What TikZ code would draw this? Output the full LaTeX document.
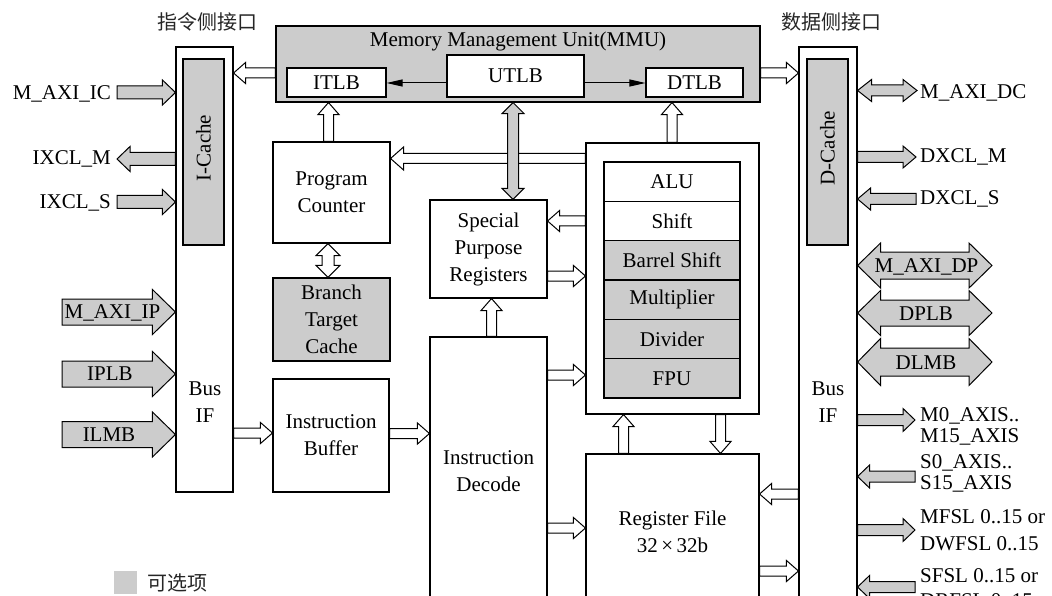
\documentclass[tikz,border=0pt]{standalone}
\usepackage{fontspec}
\setmainfont{Liberation Serif}
\newfontfamily\cjk{Noto Sans CJK SC}
\usetikzlibrary{calc,arrows.meta}
\definecolor{optgray}{RGB}{204,204,204}
\newcommand\txt{\fontsize{21}{27}\selectfont}

% single-headed block arrow: [style]{shaft half width}{head half width}{head length}{from}{to}
\newcommand\blk[6][]{%
  \path[#1] let \p1=(#5), \p2=(#6),
     \n1={atan2(\y2-\y1,\x2-\x1)}, \n2={veclen(\x2-\x1,\y2-\y1)} in
    ($(\p1)+(\n1+90:#2pt)$)
    -- ($(\p1)+(\n1:\n2-#4pt)+(\n1+90:#2pt)$)
    -- ($(\p1)+(\n1:\n2-#4pt)+(\n1+90:#3pt)$)
    -- (\p2)
    -- ($(\p1)+(\n1:\n2-#4pt)+(\n1-90:#3pt)$)
    -- ($(\p1)+(\n1:\n2-#4pt)+(\n1-90:#2pt)$)
    -- ($(\p1)+(\n1-90:#2pt)$) -- cycle;}
% double-headed block arrow, same arguments
\newcommand\dblk[6][]{%
  \path[#1] let \p1=(#5), \p2=(#6),
     \n1={atan2(\y2-\y1,\x2-\x1)}, \n2={veclen(\x2-\x1,\y2-\y1)} in
    (\p1)
    -- ($(\p1)+(\n1:#4pt)+(\n1+90:#3pt)$)
    -- ($(\p1)+(\n1:#4pt)+(\n1+90:#2pt)$)
    -- ($(\p1)+(\n1:\n2-#4pt)+(\n1+90:#2pt)$)
    -- ($(\p1)+(\n1:\n2-#4pt)+(\n1+90:#3pt)$)
    -- (\p2)
    -- ($(\p1)+(\n1:\n2-#4pt)+(\n1-90:#3pt)$)
    -- ($(\p1)+(\n1:\n2-#4pt)+(\n1-90:#2pt)$)
    -- ($(\p1)+(\n1:#4pt)+(\n1-90:#2pt)$)
    -- ($(\p1)+(\n1:#4pt)+(\n1-90:#3pt)$)
    -- cycle;}

\tikzset{
  box/.style={draw, line width=1.1pt, fill=white, inner sep=0pt, align=center, font=\txt},
  gbox/.style={box, fill=optgray},
  tnode/.style={inner sep=0pt, align=center, font=\txt},
  warr/.style={draw, line width=1pt, fill=white},
  garr/.style={draw, line width=1pt, fill=optgray},
  thinarr/.style={draw, line width=1pt, -{Triangle[length=16pt,width=7pt]}},
  cjktext/.style={inner sep=0pt, font=\cjk\fontsize{20}{24}\selectfont, text=black!85},
}
% white and grey connector shorthands
\newcommand\wa[2]{\blk[warr]{5}{10.5}{12}{#1}{#2}}
\newcommand\wda[2]{\dblk[warr]{6}{12}{12}{#1}{#2}}

\begin{document}
\begin{tikzpicture}[x=1pt,y=-1pt]
\useasboundingbox (0,0) rectangle (1052,596);
\clip (0,0) rectangle (1052,596);

% headings
\node[cjktext] (hi) at (207.5,22) {指令侧接口};
\node[cjktext] (hd) at (831,22) {数据侧接口};

% instruction-side bus interface
\node[box, minimum width=57pt, minimum height=445pt] (ibus) at (204.5,269.5) {};
\node[gbox, minimum width=41pt, minimum height=186pt] (icache) at (203.5,152) {};
\node[tnode, rotate=90] (icachet) at (203.5,148) {I-Cache};
\node[tnode] (ibust) at (205,402) {Bus\\IF};

% data-side bus interface
\node[box, minimum width=58pt, minimum height=593pt] (dbus) at (828,343.5) {};
\node[gbox, minimum width=41pt, minimum height=186pt] (dcache) at (827.5,152) {};
\node[tnode, rotate=90] (dcachet) at (827.5,148) {D-Cache};
\node[tnode] (dbust) at (828,402) {Bus\\IF};

% memory management unit
\node[gbox, minimum width=484pt, minimum height=76pt] (mmu) at (518,64) {};
\node[tnode, anchor=base] (mmut) at (518,47) {Memory Management Unit(MMU)};
\node[box, minimum width=99pt, minimum height=29pt] (itlb) at (336.5,82.5) {ITLB};
\node[box, minimum width=137pt, minimum height=42pt] (utlb) at (515.5,76) {UTLB};
\node[box, minimum width=97pt, minimum height=29pt] (dtlb) at (694.5,82.5) {DTLB};
\draw[thinarr] (utlb.west |- 0,83) -- (itlb.east |- 0,83);
\draw[thinarr] (utlb.east |- 0,83) -- (dtlb.west |- 0,83);

% fetch side
\node[box, minimum width=117pt, minimum height=101pt] (pc) at (331.5,192.5) {Program\\Counter};
\node[gbox, minimum width=117pt, minimum height=83pt] (btc) at (331.5,319.5) {Branch\\Target\\Cache};
\node[box, minimum width=116pt, minimum height=113pt] (ib) at (331,435.5) {Instruction\\Buffer};

% decode and special registers
\node[box, minimum width=117pt, minimum height=98pt] (spr) at (488.5,249) {Special\\Purpose\\Registers};
\node[box, minimum width=117pt, minimum height=303pt] (id) at (488.5,488.5) {};
\node[tnode] (idt) at (488.5,471) {Instruction\\Decode};

% execution units
\node[box, minimum width=173pt, minimum height=271pt] (exe) at (672.5,278.5) {};
\node[box, minimum width=136pt, minimum height=39.33pt] (alu) at (672,181.67) {ALU};
\node[box, minimum width=136pt, minimum height=39.33pt] (shift) at (672,221) {Shift};
\node[gbox, minimum width=136pt, minimum height=39.33pt] (bshift) at (672,260.33) {Barrel Shift};
\node[gbox, minimum width=136pt, minimum height=39.33pt] (mul) at (672,299.67) {Multiplier};
\node[gbox, minimum width=136pt, minimum height=39.33pt] (div) at (672,339) {Divider};
\node[gbox, minimum width=136pt, minimum height=39.33pt] (fpu) at (672,378.33) {FPU};

% register file
\node[box, minimum width=173pt, minimum height=186pt] (rf) at (672.5,547) {};
\node[tnode] (rft) at (672.5,532) {Register File\\32\,×\,32b};

% internal data paths
\wa{mmu.west |- 0,73}{ibus.east |- 0,73}
\wa{mmu.east |- 0,73}{dbus.west |- 0,73}
\wa{328.5,0 |- pc.north}{328.5,0 |- mmu.south}
\wa{672,0 |- exe.north}{672,0 |- mmu.south}
\blk[warr]{5}{11.5}{13}{exe.west |- 0,158.5}{pc.east |- 0,158.5}
\dblk[garr]{5.5}{11}{11}{513,0 |- mmu.south}{513,0 |- spr.north}
\wda{328,0 |- pc.south}{328,0 |- btc.north}
\wa{exe.west |- 0,221}{spr.east |- 0,221}
\wa{spr.east |- 0,276}{exe.west |- 0,276}
\wa{491.5,0 |- id.north}{491.5,0 |- spr.south}
\wa{id.east |- 0,375}{exe.west |- 0,375}
\wa{ibus.east |- 0,433}{ib.west |- 0,433}
\wa{ib.east |- 0,433.5}{id.west |- 0,433.5}
\wa{id.east |- 0,528}{rf.west |- 0,528}
\wa{623.5,0 |- rf.north}{623.5,0 |- exe.south}
\wa{720.5,0 |- exe.south}{720.5,0 |- rf.north}
\wa{dbus.west |- 0,494}{rf.east |- 0,494}
\wa{rf.east |- 0,571}{dbus.west |- 0,571}

% instruction-side ports
\coordinate (pic) at (117,92.5);
\coordinate (pxm) at (117,159);
\coordinate (pxs) at (117,202);
\node[tnode, anchor=base east] (licx) at (111,100) {M\_AXI\_IC};
\node[tnode, anchor=base east] (lixm) at (111,165) {IXCL\_M};
\node[tnode, anchor=base east] (lixs) at (111,209) {IXCL\_S};
\blk[garr]{6.5}{12.5}{13}{pic}{ibus.west |- pic}
\blk[garr]{6.5}{12.5}{13}{ibus.west |- pxm}{pxm}
\blk[garr]{6.5}{12.5}{13}{pxs}{ibus.west |- pxs}

\coordinate (pip) at (62,312);
\coordinate (ppl) at (62,374);
\coordinate (plm) at (62,434.5);
\blk[garr]{13}{22.5}{23}{pip}{ibus.west |- pip}
\blk[garr]{13}{22.5}{23}{ppl}{ibus.west |- ppl}
\blk[garr]{13}{22.5}{23}{plm}{ibus.west |- plm}
\node[tnode, anchor=base] (lip) at (112.5,318) {M\_AXI\_IP};
\node[tnode, anchor=base] (lipl) at (110,380.5) {IPLB};
\node[tnode, anchor=base] (lilm) at (109,441) {ILMB};

% data-side ports
\coordinate (qdc) at (917,90.5);
\coordinate (qxm) at (916,157);
\coordinate (qxs) at (916,199);
\dblk[garr]{5.5}{11}{14}{dbus.east |- qdc}{qdc}
\blk[garr]{5.5}{11}{13}{dbus.east |- qxm}{qxm}
\blk[garr]{5.5}{11}{13}{qxs}{dbus.east |- qxs}
\node[tnode, anchor=base west] (ldc) at (920,99) {M\_AXI\_DC};
\node[tnode, anchor=base west] (ldxm) at (920,163) {DXCL\_M};
\node[tnode, anchor=base west] (ldxs) at (920,205) {DXCL\_S};

\coordinate (qdp) at (992,265.5);
\coordinate (qpl) at (992,313);
\coordinate (qlm) at (992,362);
\dblk[garr]{13.5}{22.5}{23}{dbus.east |- qdp}{qdp}
\dblk[garr]{13}{22.5}{23}{dbus.east |- qpl}{qpl}
\dblk[garr]{14}{23.5}{23}{dbus.east |- qlm}{qlm}
\node[tnode, anchor=base] (ldp) at (926.5,272) {M\_AXI\_DP};
\node[tnode, anchor=base] (ldpl) at (926,320) {DPLB};
\node[tnode, anchor=base] (ldlm) at (926,369) {DLMB};

\coordinate (qm0) at (915,420);
\coordinate (qs0) at (915,476.5);
\coordinate (qmf) at (915,530);
\coordinate (qsf) at (915,587);
\blk[garr]{5.5}{11.5}{12}{dbus.east |- qm0}{qm0}
\blk[garr]{5.5}{11.5}{12}{qs0}{dbus.east |- qs0}
\blk[garr]{5.5}{11.5}{12}{dbus.east |- qmf}{qmf}
\blk[garr]{5.5}{11.5}{12}{qsf}{dbus.east |- qsf}
\node[tnode, anchor=base west] (lm0a) at (920,421) {M0\_AXIS..};
\node[tnode, anchor=base west] (lm0b) at (920,442) {M15\_AXIS};
\node[tnode, anchor=base west] (ls0a) at (920,468) {S0\_AXIS..};
\node[tnode, anchor=base west] (ls0b) at (920,489) {S15\_AXIS};
\node[tnode, anchor=base west] (lmfa) at (920,523) {MFSL 0..15 or};
\node[tnode, anchor=base west] (lmfb) at (920,550) {DWFSL 0..15};
\node[tnode, anchor=base west] (lsfa) at (920,582) {SFSL 0..15 or};
\node[tnode, anchor=base west] (lsfb) at (920,607) {DRFSL 0..15};

% legend
\node[fill=optgray, minimum size=23pt, inner sep=0pt] (legsq) at (125.5,582.5) {};
\node[cjktext, anchor=west] (legt) at (147,583) {可选项};
\end{tikzpicture}
\end{document}
